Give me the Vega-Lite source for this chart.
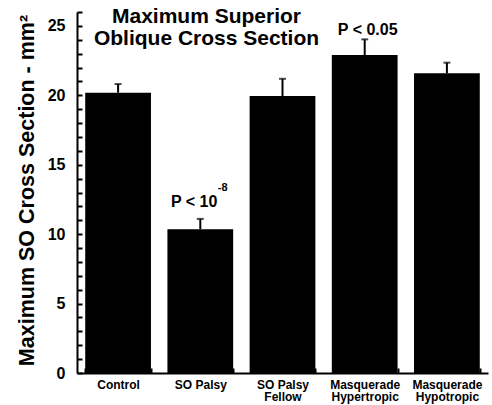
{
  "$schema": "https://vega.github.io/schema/vega-lite/v6.json",
  "autosize": "none",
  "width": 411,
  "height": 361,
  "padding": {"left": 77, "top": 12, "right": 4, "bottom": 32},
  "background": "white",
  "config": {
    "font": "Liberation Sans",
    "view": {"stroke": null},
    "axis": {"grid": false}
  },
  "title": {
    "text": ["Maximum Superior", "Oblique Cross Section"],
    "anchor": "middle",
    "frame": "group",
    "orient": "top",
    "offset": 0,
    "dx": -76,
    "dy": 62,
    "baseline": "alphabetic",
    "fontSize": 21,
    "fontWeight": "bold",
    "lineHeight": 22,
    "color": "black",
    "font": "Liberation Sans"
  },
  "resolve": {"axis": {"y": "independent"}},
  "data": {
    "values": [
      {"group": "Control", "mean": 20.19, "err": 20.81},
      {"group": "SO Palsy", "mean": 10.36, "err": 11.1, "p": "P < 10", "sup": "-8", "py": 11.97},
      {"group": "SO Palsy Fellow", "mean": 19.95, "err": 21.19},
      {"group": "Masquerade Hypertropic", "mean": 22.9, "err": 24.03, "p": "P < 0.05", "py": 24.34},
      {"group": "Masquerade Hypotropic", "mean": 21.59, "err": 22.35}
    ]
  },
  "encoding": {
    "x": {
      "field": "group",
      "type": "nominal",
      "sort": null,
      "scale": {"paddingInner": 0.2, "paddingOuter": 0.1},
      "axis": {
        "title": null,
        "labelAngle": 0,
        "labelFontSize": 12,
        "labelFontWeight": "bold",
        "labelColor": "black",
        "labelBaseline": "top",
        "labelLineHeight": 12.5,
        "labelPadding": 11,
        "labelExpr": "datum.label == 'SO Palsy Fellow' ? ['SO Palsy','Fellow'] : datum.label == 'Masquerade Hypertropic' ? ['Masquerade','Hypertropic'] : datum.label == 'Masquerade Hypotropic' ? ['Masquerade','Hypotropic'] : datum.label",
        "domainColor": "black",
        "domainWidth": 2,
        "ticks": true,
        "tickColor": "black",
        "tickWidth": 2,
        "tickSize": -5,
        "tickBand": "extent",
        "zindex": 1
      }
    }
  },
  "layer": [
    {
      "mark": {"type": "bar", "color": "black"},
      "encoding": {
        "y": {
          "field": "mean",
          "type": "quantitative",
          "scale": {"domain": [0, 26], "nice": false},
          "axis": {
            "values": [0,1,2,3,4,5,6,7,8,9,10,11,12,13,14,15,16,17,18,19,20,21,22,23,24,25,26],
            "labelExpr": "datum.value % 5 === 0 ? datum.label : ''",
            "labelOverlap": false,
            "labelFontSize": 16,
            "labelFontWeight": "bold",
            "labelColor": "black",
            "labelPadding": 17,
            "domainColor": "black",
            "domainWidth": 2,
            "ticks": true,
            "tickColor": "black",
            "tickWidth": 2,
            "tickSize": -5,
            "zindex": 1,
            "title": "Maximum SO Cross Section - mm²",
            "titleFontSize": 21.5,
            "titleFontWeight": "bold",
            "titleColor": "black",
            "titleX": -44,
            "titleY": 178,
            "titleAngle": -90,
            "titleAlign": "center",
            "titleBaseline": "alphabetic"
          }
        }
      }
    },
    {
      "mark": {"type": "rule", "color": "black", "strokeWidth": 2},
      "encoding": {
        "y": {"field": "mean", "type": "quantitative", "axis": null},
        "y2": {"field": "err"}
      }
    },
    {
      "mark": {"type": "tick", "color": "black", "orient": "horizontal", "size": 7, "thickness": 2},
      "encoding": {
        "y": {"field": "err", "type": "quantitative", "axis": null}
      }
    },
    {
      "transform": [{"filter": "datum.group == 'Masquerade Hypertropic'"}],
      "mark": {"type": "text", "fontSize": 16, "fontWeight": "bold", "color": "black", "align": "center", "baseline": "alphabetic", "dx": 3},
      "encoding": {
        "y": {"field": "py", "type": "quantitative", "axis": null},
        "text": {"field": "p"}
      }
    },
    {
      "transform": [{"filter": "datum.group == 'SO Palsy'"}],
      "mark": {"type": "text", "fontSize": 16, "fontWeight": "bold", "color": "black", "align": "right", "baseline": "alphabetic", "dx": 17},
      "encoding": {
        "y": {"field": "py", "type": "quantitative", "axis": null},
        "text": {"field": "p"}
      }
    },
    {
      "transform": [{"filter": "datum.group == 'SO Palsy'"}],
      "mark": {"type": "text", "fontSize": 11, "fontWeight": "bold", "color": "black", "align": "left", "baseline": "alphabetic", "dx": 17.5, "dy": -16},
      "encoding": {
        "y": {"field": "py", "type": "quantitative", "axis": null},
        "text": {"field": "sup"}
      }
    }
  ]
}
